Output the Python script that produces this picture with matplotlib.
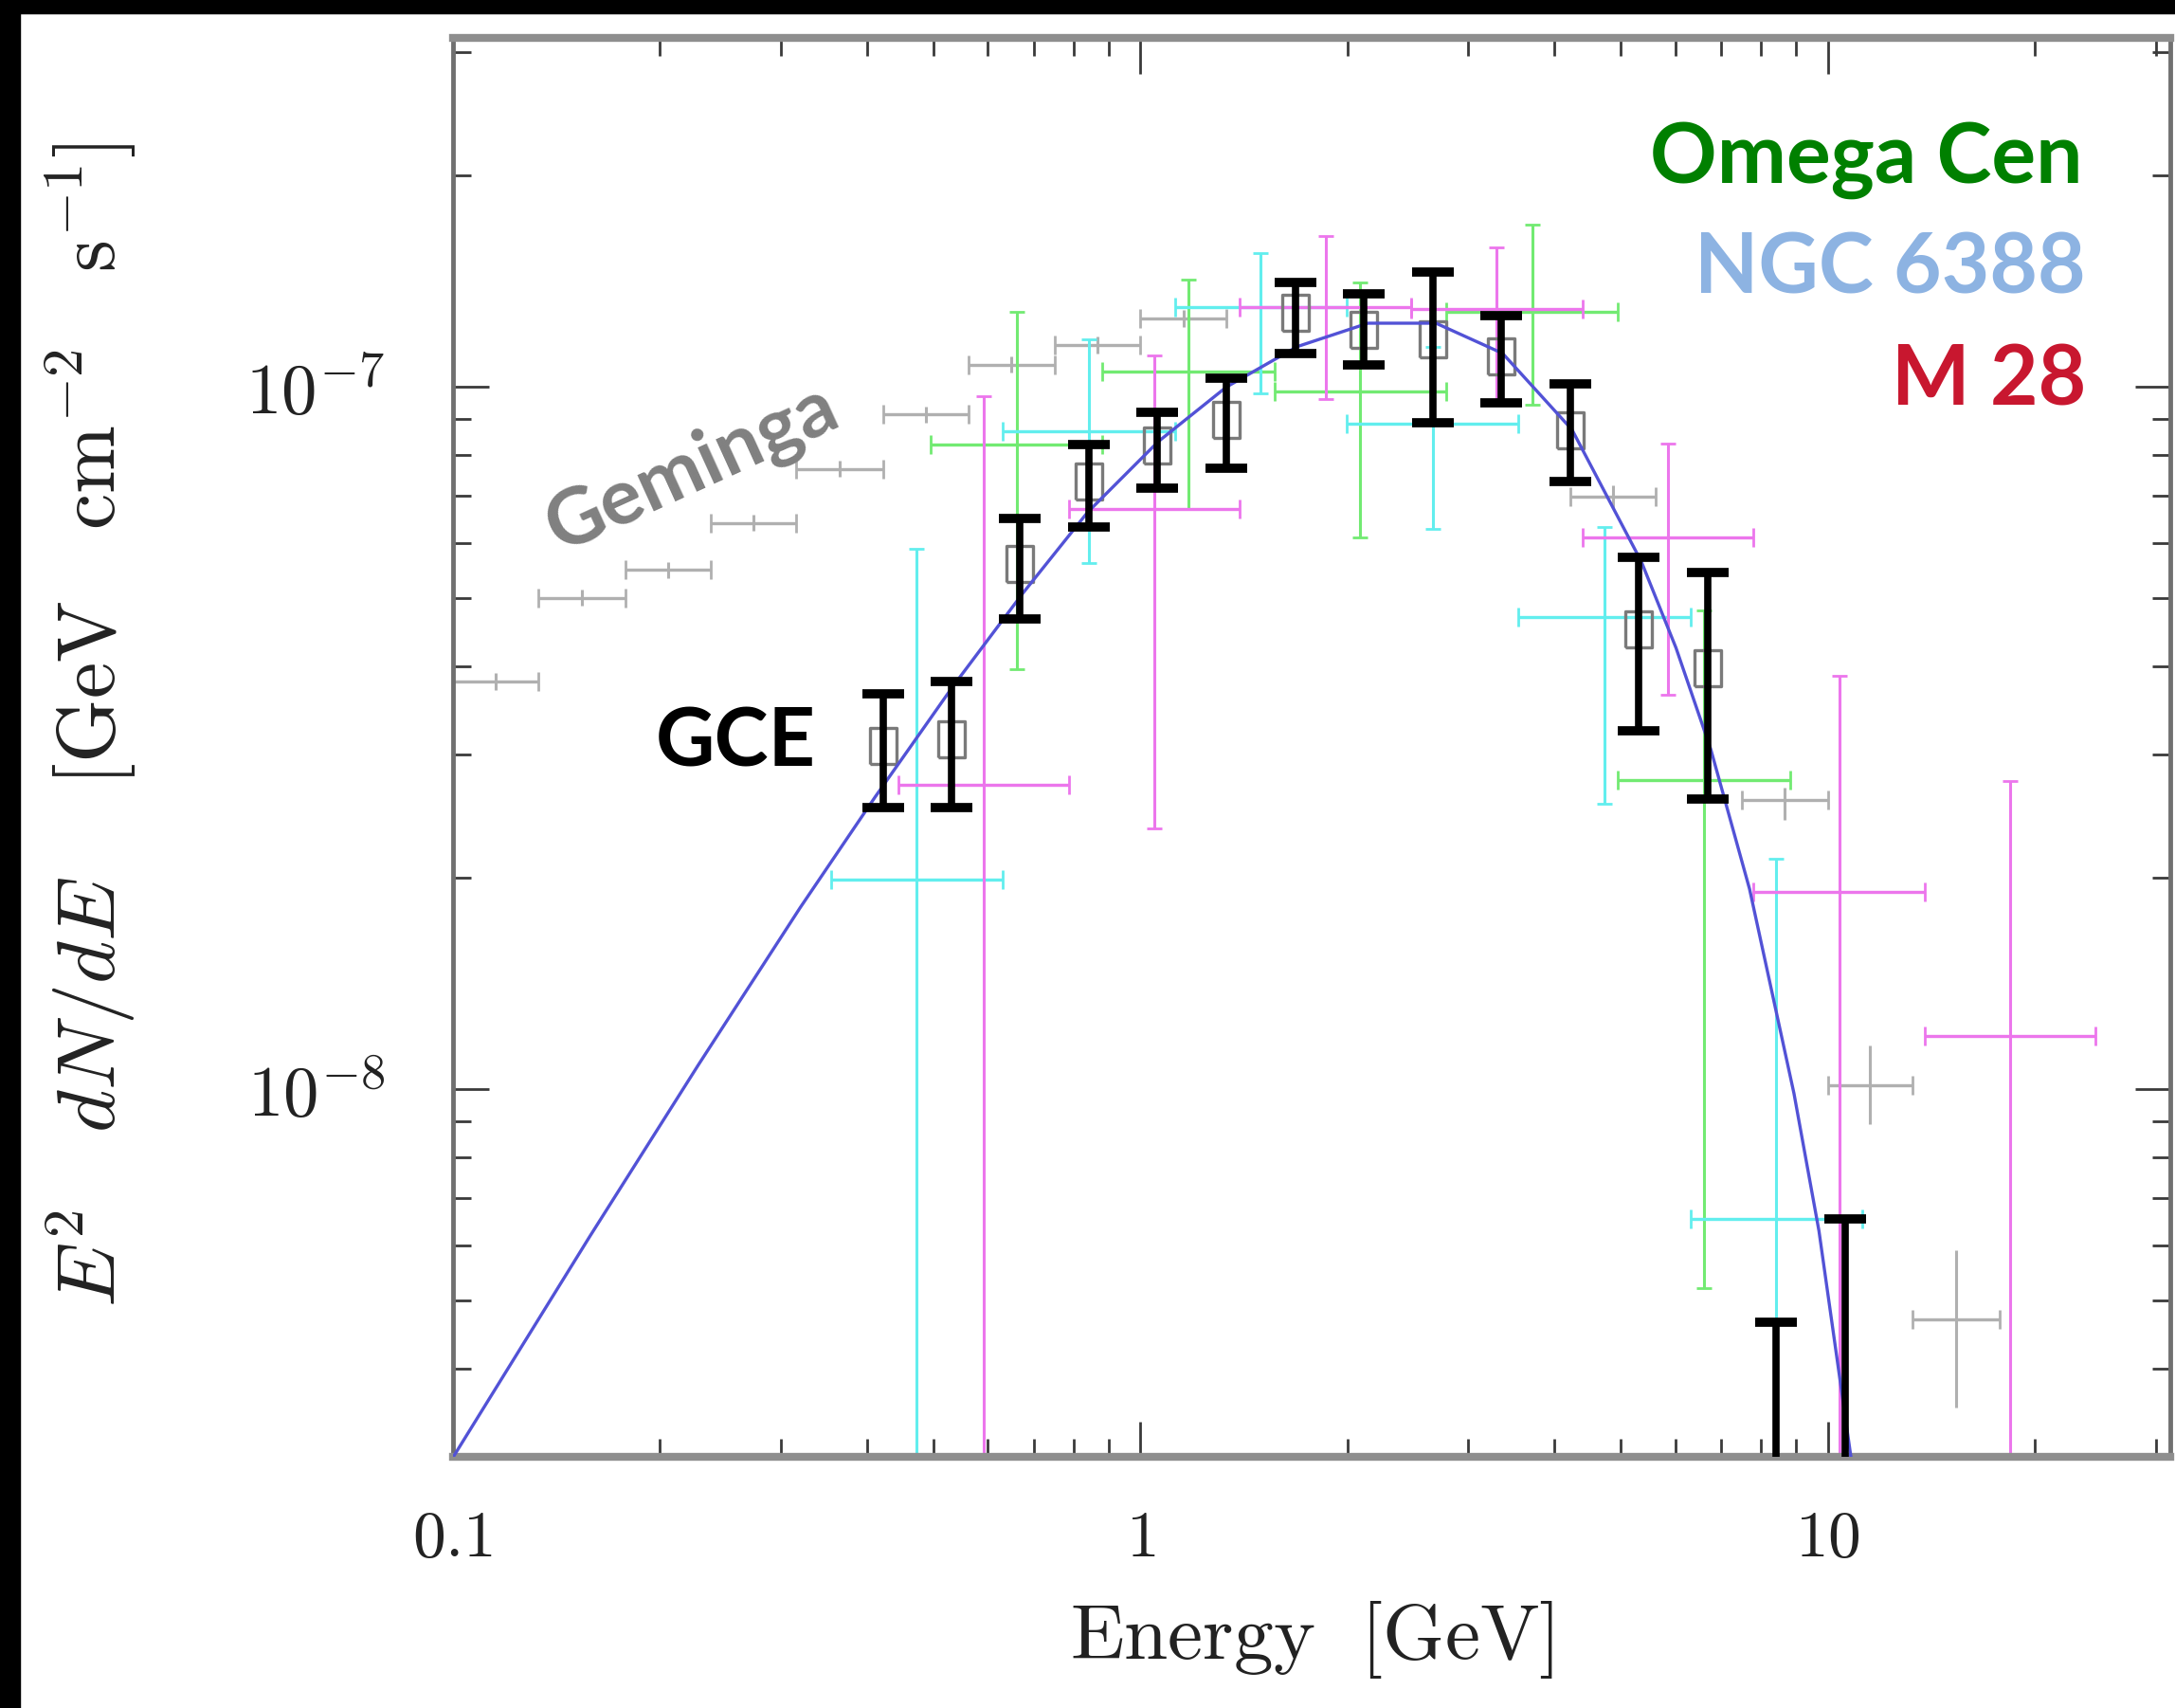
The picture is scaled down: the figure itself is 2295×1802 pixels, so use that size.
import numpy as np
import matplotlib.pyplot as plt
from matplotlib.patches import Rectangle
from matplotlib.ticker import LogLocator, NullFormatter

plt.rcParams['mathtext.fontset'] = 'cm'
plt.rcParams['font.family'] = ['DejaVu Serif']

# GCE spectrum (black points)
gce_e = [0.422, 0.531, 0.668, 0.841, 1.059, 1.334, 1.679, 2.113, 2.661, 3.350, 4.217, 5.309, 6.683]
gce_flux = [3.08e-8, 3.15e-8, 5.60e-8, 7.34e-8, 8.26e-8, 8.97e-8, 1.276e-7, 1.207e-7, 1.167e-7, 1.105e-7, 8.67e-8, 4.52e-8, 3.98e-8]
gce_hi = [3.66e-8, 3.81e-8, 6.49e-8, 8.28e-8, 9.19e-8, 1.028e-7, 1.41e-7, 1.356e-7, 1.459e-7, 1.262e-7, 1.01e-7, 5.72e-8, 5.44e-8]
gce_lo = [2.52e-8, 2.52e-8, 4.68e-8, 6.31e-8, 7.17e-8, 7.66e-8, 1.117e-7, 1.076e-7, 8.89e-8, 9.49e-8, 7.34e-8, 3.24e-8, 2.59e-8]
# GCE upper limits
gce_ul_e = [8.414, 10.59]
gce_ul = [4.66e-9, 6.55e-9]

# fitted curve through GCE
fit_e = [0.100, 0.158, 0.2275, 0.320, 0.4115, 0.534, 0.674, 0.838, 1.062, 1.334, 1.691, 2.144,
         2.692, 3.365, 4.246, 5.356, 6.016, 6.758, 7.696, 8.931, 9.711, 10.81]
fit_flux = [2.995e-9, 6.17e-9, 1.084e-8, 1.815e-8, 2.61e-8, 3.75e-8, 5.08e-8, 6.63e-8, 8.36e-8, 9.995e-8, 1.141e-7, 1.232e-7,
            1.232e-7, 1.116e-7, 8.69e-8, 5.64e-8, 4.25e-8, 3.05e-8, 1.929e-8, 9.87e-9, 6.29e-9, 2.995e-9]

# Geminga (grey)
gem_elo = [0.100, 0.133, 0.178, 0.237, 0.316, 0.422, 0.562, 0.750, 1.000, 4.22, 7.50, 10.0, 13.3]
gem_ehi = [0.133, 0.178, 0.237, 0.316, 0.422, 0.562, 0.750, 1.000, 1.334, 5.62, 10.0, 13.3, 17.8]
gem_flux = [3.81e-8, 5.01e-8, 5.49e-8, 6.40e-8, 7.64e-8, 9.13e-8, 1.076e-7, 1.146e-7, 1.25e-7, 6.98e-8, 2.58e-8, 1.014e-8, 4.70e-9]
gem_hi = [3.92e-8, 5.14e-8, 5.63e-8, 6.57e-8, 7.84e-8, 9.37e-8, 1.105e-7, 1.178e-7, 1.285e-7, 7.25e-8, 2.69e-8, 1.156e-8, 5.90e-9]
gem_lo = [3.70e-8, 4.88e-8, 5.35e-8, 6.23e-8, 7.44e-8, 8.89e-8, 1.047e-7, 1.115e-7, 1.215e-7, 6.72e-8, 2.42e-8, 8.93e-9, 3.52e-9]

# Omega Cen (green)
ocen_e = [0.661, 1.175, 2.089, 3.715, 6.607]
ocen_elo = [0.495, 0.881, 1.567, 2.786, 4.955]
ocen_ehi = [0.881, 1.567, 2.786, 4.955, 8.81]
ocen_flux = [8.29e-8, 1.05e-7, 9.86e-8, 1.28e-7, 2.76e-8]
ocen_hi = [1.28e-7, 1.42e-7, 1.41e-7, 1.70e-7, 4.81e-8]
ocen_lo = [3.97e-8, 6.70e-8, 6.10e-8, 9.42e-8, 5.21e-9]

# NGC 6388 (cyan); 1e-9 = bar runs below the axis
ngc_e = [0.473, 0.841, 1.496, 2.661, 4.732, 8.414]
ngc_elo = [0.355, 0.631, 1.122, 1.995, 3.548, 6.31]
ngc_ehi = [0.631, 1.122, 1.995, 3.548, 6.31, 11.22]
ngc_flux = [1.99e-8, 8.65e-8, 1.30e-7, 8.85e-8, 4.70e-8, 6.55e-9]
ngc_hi = [5.88e-8, 1.17e-7, 1.55e-7, 1.14e-7, 6.31e-8, 2.13e-8]
ngc_lo = [1e-9, 5.61e-8, 9.78e-8, 6.28e-8, 2.55e-8, 1e-9]

# M 28 (magenta)
m28_e = [0.592, 1.048, 1.860, 3.300, 5.854, 10.39, 18.43]
m28_elo = [0.445, 0.787, 1.396, 2.477, 4.395, 7.80, 13.84]
m28_ehi = [0.787, 1.396, 2.477, 4.395, 7.80, 13.84, 24.55]
m28_flux = [2.71e-8, 6.70e-8, 1.30e-7, 1.29e-7, 6.10e-8, 1.91e-8, 1.19e-8]
m28_hi = [9.7e-8, 1.11e-7, 1.64e-7, 1.58e-7, 8.3e-8, 3.88e-8, 2.75e-8]
m28_lo = [1e-9, 2.35e-8, 9.6e-8, 9.5e-8, 3.64e-8, 1e-9, 1e-9]

xtick_vals = [0.1, 1, 10]
xtick_labels = [r'$0.1$', r'$1$', r'$10$']
ytick_vals = [1e-8, 1e-7]
ytick_labels = [r'$10^{-8}$', r'$10^{-7}$']


def cross(ax, e, elo, ehi, f, flo, fhi, color, z, ycap=6):
    e = np.array(e)
    f = np.array(f)
    xerr = [e - np.array(elo), np.array(ehi) - e]
    yerr = [f - np.array(flo), np.array(fhi) - f]
    ax.errorbar(e, f, xerr=xerr, fmt='none', ecolor=color,
                elinewidth=2.4, capsize=7, capthick=2, zorder=z)
    ax.errorbar(e, f, yerr=yerr, fmt='none', ecolor=color,
                elinewidth=2.2, capsize=ycap, capthick=2, zorder=z)


fig = plt.figure(figsize=(22.95, 18.02), dpi=100)
ax = fig.add_axes([0.2083, 0.1471, 0.7895, 0.8308])

# bins are symmetric in log, so the x centre for grey points is the geometric mean
gem_e = np.sqrt(np.array(gem_elo) * np.array(gem_ehi))
cross(ax, gem_e, gem_elo, gem_ehi, gem_flux, gem_lo, gem_hi, '#b0b0b0', 1, ycap=0)
cross(ax, ocen_e, ocen_elo, ocen_ehi, ocen_flux, ocen_lo, ocen_hi, '#72ea72', 2)
cross(ax, ngc_e, ngc_elo, ngc_ehi, ngc_flux, ngc_lo, ngc_hi, '#62eeee', 2)
cross(ax, m28_e, m28_elo, m28_ehi, m28_flux, m28_lo, m28_hi, '#ec76ec', 2)

# GCE open boxes
box = [(-0.37, -0.5), (0.37, -0.5), (0.37, 0.5), (-0.37, 0.5), (-0.37, -0.5)]
ax.plot(gce_e, gce_flux, ls='none', marker=box, ms=27, mfc='none', mec='#7a7a7a', mew=2.4, zorder=3)

ax.plot(fit_e, fit_flux, color='#5252d6', lw=2.4, zorder=4)

gf = np.array(gce_flux)
ax.errorbar(gce_e, gce_flux, yerr=[gf - np.array(gce_lo), np.array(gce_hi) - gf], fmt='none',
            ecolor='black', elinewidth=5.5, capsize=16, capthick=7, zorder=5)
ul = np.array(gce_ul)
ax.errorbar(gce_ul_e, gce_ul, yerr=[ul - 1e-9, np.zeros(len(ul))], fmt='none',
            ecolor='black', elinewidth=5.5, capsize=16, capthick=7, zorder=5)

ax.set_xscale('log')
ax.set_yscale('log')
ax.set_xlim(0.1, 31.5)
ax.set_ylim(3.0e-9, 3.14e-7)
ax.set_xticks(xtick_vals)
ax.set_xticklabels(xtick_labels)
ax.set_yticks(ytick_vals)
ax.set_yticklabels(ytick_labels)
ax.xaxis.set_minor_locator(LogLocator(base=10, subs=np.arange(2, 10)))
ax.yaxis.set_minor_locator(LogLocator(base=10, subs=np.arange(2, 10)))
ax.xaxis.set_minor_formatter(NullFormatter())
ax.yaxis.set_minor_formatter(NullFormatter())
ax.tick_params(which='both', direction='in', top=True, right=True, color='#3a3a3a', labelcolor='#222222')
ax.tick_params(which='major', length=27, width=2)
ax.tick_params(which='minor', length=14, width=2)
ax.tick_params(axis='x', which='major', labelsize=50, pad=38)
ax.tick_params(axis='y', which='major', labelsize=54, pad=52)

for side in ['bottom', 'top']:
    ax.spines[side].set_linewidth(6)
    ax.spines[side].set_color('#8e8e8e')
for side in ['left', 'right']:
    ax.spines[side].set_linewidth(3.5)
    ax.spines[side].set_color('#707070')

ax.set_xlabel(r'$\mathrm{Energy\ \ [GeV]}$', fontsize=60, color='#222222')
ax.set_ylabel(r'$E^2\ \ \ dN/dE\ \ \ \ [\mathrm{GeV\ \ \ cm^{-2}\ \ \ s^{-1}}]$', fontsize=62, color='#222222')
ax.xaxis.set_label_coords(0.5, -0.1)
ax.yaxis.set_label_coords(-0.183, 0.516)

# annotations
fig.text(0.9573, 0.8929, 'Omega Cen', color='#008000', fontsize=63, fontweight='bold',
         family='Lato', ha='right', va='baseline')
fig.text(0.9590, 0.8285, 'NGC 6388', color='#8db3e2', fontsize=63, fontweight='bold',
         family='Lato', ha='right', va='baseline')
fig.text(0.9590, 0.7630, 'M 28', color='#c8172f', fontsize=63, fontweight='bold',
         family='Lato', ha='right', va='baseline')
fig.text(0.3185, 0.7259, 'Geminga', color='#808080', fontsize=60, fontweight='bold',
         family='Lato', ha='center', va='center', rotation=24.5, rotation_mode='anchor')
fig.text(0.3381, 0.5511, 'GCE', color='black', fontsize=62, fontweight='bold',
         family='Lato', ha='center', va='baseline')

# black borders of the original screenshot
fig.patches.append(Rectangle((0, 1 - 14 / 1802), 1, 14 / 1802, transform=fig.transFigure,
                             color='black', zorder=10))
fig.patches.append(Rectangle((0, 0), 21 / 2295, 1, transform=fig.transFigure,
                             color='black', zorder=10))

fig.savefig('out.png', dpi=100)
